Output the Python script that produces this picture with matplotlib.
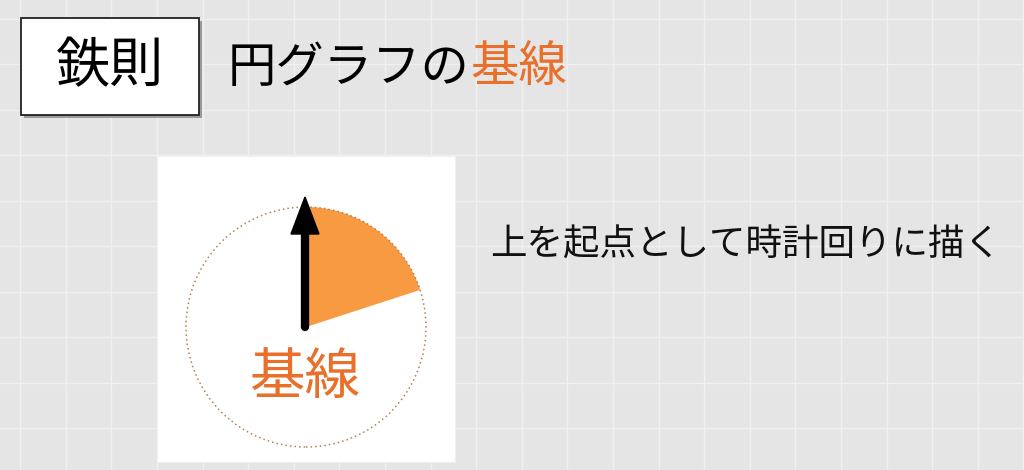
import matplotlib
matplotlib.use("Agg")
import matplotlib.pyplot as plt
from matplotlib.patches import Rectangle, Circle

plt.rcParams['font.family'] = ['Noto Sans CJK JP', 'DejaVu Sans']

# ---- data ----
slice_labels = ["基線からの扇形", "残り"]
slice_values = [20, 80]
box_label = "鉄則"
title_black = "円グラフの"
title_orange = "基線"
center_label = "基線"
note_text = "上を起点として時計回りに描く"

W, H = 1024, 470
ORANGE_TXT = "#E8702A"
ORANGE_FILL = "#F79A42"

fig = plt.figure(figsize=(W / 100, H / 100), dpi=100)
ax = fig.add_axes([0, 0, 1, 1])
ax.set_xlim(0, W)
ax.set_ylim(H, 0)
ax.set_aspect('equal')
ax.axis('off')
fig.patch.set_facecolor("#E5E5E5")

# grid
x = 20.2
while x < W:
    ax.axvline(x, color="#F0F0F0", lw=1.0, zorder=0)
    x += 45.6
y = 18.5
while y < H:
    ax.axhline(y, color="#F0F0F0", lw=1.0, zorder=0)
    y += 45.5

# title box with shadow
ax.add_patch(Rectangle((24, 21), 178, 97, facecolor="#9A9A9A", edgecolor="none", zorder=1))
ax.add_patch(Rectangle((21, 18), 178, 97, facecolor="white", edgecolor="#222222", lw=1.3, zorder=2))
ax.text(110, 67, box_label, fontsize=39, ha='center', va='center', color="black", zorder=3)

# title
t1 = ax.text(228, 68, title_black, fontsize=34.8, ha='left', va='center', color="black")
fig.canvas.draw()
bb = t1.get_window_extent()
inv = ax.transData.inverted()
x_end = inv.transform((bb.x1, bb.y0))[0]
ax.text(x_end, 68, title_orange, fontsize=34.8, ha='left', va='center', color=ORANGE_TXT)

# white panel
ax.add_patch(Rectangle((157, 156), 298, 306, facecolor="white", edgecolor="#F0F0F0", lw=0.8, zorder=1))

# pie (flip y so clockwise in image)
cx, cy, r = 306, 327, 120
pax = fig.add_axes([0, 0, 1, 1])
pax.set_xlim(0, W)
pax.set_ylim(0, H)
pax.set_aspect('equal')
wedges, _ = pax.pie(slice_values, startangle=90, counterclock=False,
                    colors=[ORANGE_FILL, "none"], center=(cx, H - cy), radius=r,
                    frame=True, wedgeprops=dict(linewidth=0))
pax.set_xlim(0, W)
pax.set_ylim(0, H)
pax.axis('off')
pax.patch.set_alpha(0)
pax.add_patch(Circle((cx, H - cy), r, facecolor="none", edgecolor="#B8804A",
                     lw=1.1, linestyle=(0, (1, 2)), zorder=1))

# arrow
pax.plot([305, 305], [H - 327, H - 232], color="black", lw=6, solid_capstyle='round', zorder=5)
pax.arrow(305, H - 240, 0, 43, width=0.1, head_width=28, head_length=37,
          length_includes_head=True, color="black", zorder=6)

# center label
pax.text(305, H - 378, center_label, fontsize=40, ha='center', va='center', color=ORANGE_TXT, zorder=6)

# note
pax.text(490, H - 245, note_text, fontsize=26.3, ha='left', va='center', color="#111111")

fig.savefig("out.png", dpi=100, facecolor=fig.get_facecolor())
